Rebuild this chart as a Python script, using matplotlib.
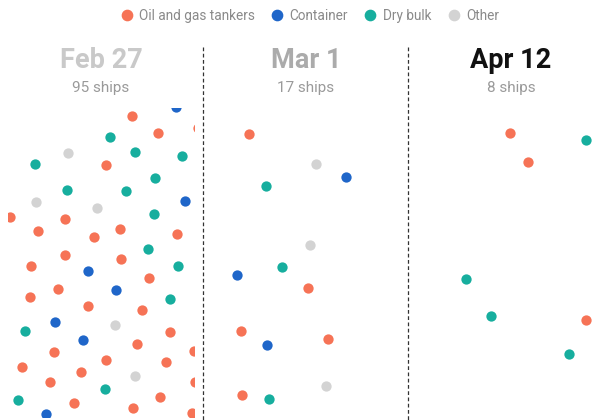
import matplotlib.pyplot as plt
from matplotlib.lines import Line2D

plt.rcParams['font.family'] = ['Roboto', 'DejaVu Sans']

categories = ['Oil and gas tankers', 'Container', 'Dry bulk', 'Other']
colors = ['#F67356', '#1F66C9', '#17AE9E', '#D3D3D3']

dates = ['Feb 27', 'Mar 1', 'Apr 12']
ship_counts = [95, 17, 8]
title_colors = ['#C9C9C9', '#ABABAB', '#111111']

# ship positions (px), x from the panel's left edge, y from the top of the dot area
feb27_tankers = [(132, 16), (198, 28), (158, 33), (106, 65), (10, 117), (65, 119),
                 (38, 131), (94, 137), (120, 129), (177, 134), (65, 155), (121, 159),
                 (31, 166), (149, 178), (58, 189), (30, 197), (88, 206), (142, 210),
                 (170, 232), (137, 244), (194, 251), (54, 252), (106, 260), (22, 267),
                 (166, 262), (81, 272), (50, 282), (195, 282), (160, 297), (74, 303),
                 (133, 308), (192, 313)]
feb27_container = [(176, 7), (185, 101), (88, 171), (116, 190), (55, 222), (83, 240), (46, 314)]
feb27_drybulk = [(110, 37), (135, 52), (182, 56), (35, 64), (155, 78), (67, 90), (126, 91),
                 (154, 114), (148, 149), (178, 166), (170, 199), (25, 231), (105, 289), (18, 300)]
feb27_other = [(68, 53), (36, 102), (97, 108), (115, 225), (135, 276)]

mar1_tankers = [(44, 34), (103, 188), (36, 231), (123, 239), (37, 295)]
mar1_container = [(141, 77), (32, 175), (62, 245)]
mar1_drybulk = [(61, 86), (77, 167), (64, 299)]
mar1_other = [(111, 64), (105, 145), (121, 286)]

apr12_tankers = [(100, 33), (118, 62), (176, 220)]
apr12_container = []
apr12_drybulk = [(176, 40), (56, 179), (81, 216), (159, 254)]
apr12_other = []

panels = [
    [feb27_tankers, feb27_container, feb27_drybulk, feb27_other],
    [mar1_tankers, mar1_container, mar1_drybulk, mar1_other],
    [apr12_tankers, apr12_container, apr12_drybulk, apr12_other],
]

W, H = 602, 420
fig = plt.figure(figsize=(W / 100, H / 100), dpi=100)

# background axes in pixel units for titles and separators
bg = fig.add_axes([0, 0, 1, 1])
bg.set_xlim(0, W)
bg.set_ylim(H, 0)
bg.axis('off')

bg.vlines([203, 408], 47, H, colors='#333333', linewidth=0.9, linestyles=(0, (3, 2)))

title_x = [101, 306, 511]
for i in range(3):
    bg.text(title_x[i], 61, dates[i], ha='center', va='center', fontsize=19.5,
            fontweight='bold', color=title_colors[i])
    bg.text(title_x[i], 88, f'{ship_counts[i]} ships', ha='center', va='center',
            fontsize=11, color='#9A9A9A')

# dot areas: (left, right, top, bottom) in px; first panel is cropped
origins = [0, 205, 410]
boxes = [(8, 194, 108, 417), (205, 405, 100, 420), (410, 602, 100, 420)]
for i, dots in enumerate(panels):
    x0, x1, y0, y1 = boxes[i]
    ax = fig.add_axes([x0 / W, 1 - y1 / H, (x1 - x0) / W, (y1 - y0) / H])
    ax.set_xlim(x0 - origins[i], x1 - origins[i])
    ax.set_ylim(y1 - 100, y0 - 100)
    ax.axis('off')
    for j, pts in enumerate(dots):
        if not pts:
            continue
        xs = [p[0] for p in pts]
        ys = [p[1] for p in pts]
        ax.scatter(xs, ys, s=55, color=colors[j], linewidths=0, clip_on=(i == 0))

handles = [Line2D([], [], marker='o', ls='', color=c, markersize=7.4) for c in colors]
fig.legend(handles, categories, loc='center', bbox_to_anchor=(310 / W, 1 - 16 / H),
           ncol=4, frameon=False, fontsize=9.8, labelcolor='#8A8A8A',
           handlelength=0.8, handletextpad=0.5, columnspacing=1.25, borderpad=0)

fig.savefig('out.png', dpi=100)
